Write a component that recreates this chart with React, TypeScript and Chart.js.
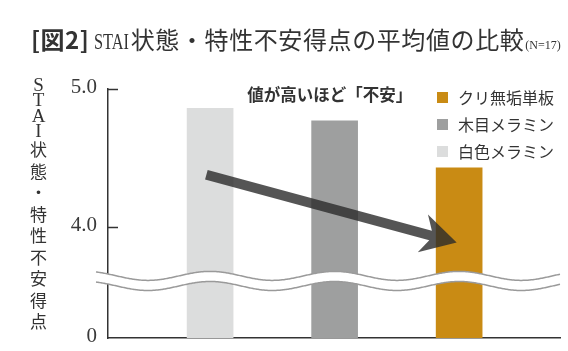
import React, { useEffect, useRef } from 'react';
import { Chart, registerables } from 'chart.js';

Chart.register(...registerables);

// ---- data ----
const categories = ['白色メラミン', '木目メラミン', 'クリ無垢単板'];
const values = [4.86, 4.77, 4.43];
const barColors = ['#DCDDDD', '#9E9F9F', '#C98B14'];
const legendOrder = [2, 1, 0];
const yTickValues = [3.2, 4.0, 5.0];
const yTickLabels = ['0', '4.0', '5.0'];
const yMin = 3.2;
const yMax = 5.0;
const breakUpper = 3.649;
const breakLower = 3.576;
const arrowStart = [-0.03, 4.38];
const arrowEnd = [1.98, 3.89];
const noteText = '値が高いほど「不安」';
const notePos = [0.96, 4.957];
const titleTag = '[図2]';
const titleLatin = 'STAI';
const titleMain = '状態・特性不安得点の平均値の比較';
const titleNote = '(N=17)';
const axisTitleLatin = 'STAI';
const axisTitleJp = '状態・特性不安得点';

const JP = '"Noto Sans CJK JP", sans-serif';
const SERIF = '"Liberation Serif", serif';

const decorPlugin = {
  id: 'decor',
  afterDatasetsDraw(chart: any) {
    const { ctx, chartArea, scales } = chart;
    const xs = scales.x;
    const ys = scales.y;
    ctx.save();

    // inward tick marks
    ctx.strokeStyle = '#333';
    ctx.lineWidth = 1.5;
    yTickValues.forEach((v) => {
      if (v === yMin) return;
      const y = Math.round(ys.getPixelForValue(v)) + 0.5;
      ctx.beginPath();
      ctx.moveTo(chartArea.left, y);
      ctx.lineTo(chartArea.left + 10, y);
      ctx.stroke();
    });

    // axis break (wavy white band)
    const x0 = xs.getPixelForValue(0);
    const period = xs.getPixelForValue(1) - x0;
    const yu = ys.getPixelForValue(breakUpper);
    const yl = ys.getPixelForValue(breakLower);
    const A = 4.5;
    const left = chartArea.left - 12;
    const right = chartArea.right;
    const wave = (yc: number, x: number) => yc - A * Math.cos((2 * Math.PI * (x - x0)) / period);
    ctx.beginPath();
    for (let x = left; x <= right; x++) {
      const y = wave(yu, x);
      if (x === left) ctx.moveTo(x, y);
      else ctx.lineTo(x, y);
    }
    for (let x = right; x >= left; x--) ctx.lineTo(x, wave(yl, x));
    ctx.closePath();
    ctx.fillStyle = '#ffffff';
    ctx.fill();
    ctx.strokeStyle = '#9a9a9a';
    ctx.lineWidth = 1.5;
    [yu, yl].forEach((yc) => {
      ctx.beginPath();
      for (let x = left; x <= right; x++) {
        const y = wave(yc, x);
        if (x === left) ctx.moveTo(x, y);
        else ctx.lineTo(x, y);
      }
      ctx.stroke();
    });

    // arrow
    const sx = xs.getPixelForValue(arrowStart[0]);
    const sy = ys.getPixelForValue(arrowStart[1]);
    const ex = xs.getPixelForValue(arrowEnd[0]);
    const ey = ys.getPixelForValue(arrowEnd[1]);
    const dx = ex - sx;
    const dy = ey - sy;
    const len = Math.hypot(dx, dy);
    const ux = dx / len;
    const uy = dy / len;
    const px = -uy;
    const py = ux;
    const hw = 5;
    const headLen = 35;
    const headHalf = 19.5;
    const joint = 27;
    const pt = (along: number, perp: number): [number, number] => [
      ex + ux * along + px * perp,
      ey + uy * along + py * perp,
    ];
    const pts: [number, number][] = [
      [sx - px * hw, sy - py * hw],
      pt(-joint, -hw),
      pt(-headLen, -headHalf),
      [ex, ey],
      pt(-headLen, headHalf),
      pt(-joint, hw),
      [sx + px * hw, sy + py * hw],
    ];
    ctx.beginPath();
    pts.forEach((p, i) => (i === 0 ? ctx.moveTo(p[0], p[1]) : ctx.lineTo(p[0], p[1])));
    ctx.closePath();
    ctx.fillStyle = 'rgba(42,42,42,0.8)';
    ctx.fill();

    // note text
    ctx.fillStyle = '#333';
    ctx.font = 'bold 16.5px "Noto Sans CJK JP"';
    ctx.textAlign = 'center';
    ctx.textBaseline = 'middle';
    ctx.fillText(noteText, xs.getPixelForValue(notePos[0]), ys.getPixelForValue(notePos[1]));
    ctx.restore();
  },
};

export default function App() {
  const canvasRef = useRef<HTMLCanvasElement | null>(null);

  useEffect(() => {
    document.body.style.margin = '0';
    const canvas = canvasRef.current;
    if (!canvas) return;
    const chart = new Chart(canvas, {
      type: 'bar',
      data: {
        labels: categories,
        datasets: [
          {
            label: 'STAI',
            data: values.map((v, i) => ({ x: i, y: v })) as any,
            backgroundColor: barColors,
            borderWidth: 0,
            barThickness: 46,
          },
        ],
      },
      options: {
        animation: false,
        responsive: true,
        maintainAspectRatio: false,
        layout: { padding: { left: 0, top: 89, right: 8, bottom: 13 } },
        plugins: { legend: { display: false }, tooltip: { enabled: false } },
        scales: {
          x: {
            type: 'linear',
            offset: false,
            min: -0.82,
            max: 2.81,
            ticks: { display: false },
            grid: { display: false, drawTicks: false },
            border: { display: true, color: '#333', width: 1.5 },
            afterFit: (s: any) => {
              s.height = 0;
              s.paddingLeft = 0;
              s.paddingRight = 0;
            },
          },
          y: {
            type: 'linear',
            min: yMin,
            max: yMax,
            afterBuildTicks: (s: any) => {
              s.ticks = yTickValues.map((v) => ({ value: v }));
            },
            ticks: {
              padding: 11,
              labelOffset: -1.5,
              color: '#3a3a3a',
              font: { family: SERIF, size: 21 },
              callback: (v: any) => {
                const i = yTickValues.indexOf(Number(v));
                return i >= 0 ? yTickLabels[i] : '';
              },
            },
            grid: { display: false, drawTicks: false },
            border: { display: true, color: '#333', width: 1.5 },
            afterFit: (s: any) => {
              s.width = 108;
              s.paddingTop = 0;
              s.paddingBottom = 0;
            },
          },
        },
      },
      plugins: [decorPlugin],
    } as any);
    return () => chart.destroy();
  }, []);

  return (
    <div style={{ position: 'relative', width: 568, height: 351, background: '#fff', overflow: 'hidden' }}>
      <canvas ref={canvasRef} style={{ position: 'absolute', left: 0, top: 0, width: 568, height: 351 }} />
      <div
        style={{
          position: 'absolute',
          left: 31,
          top: 24,
          whiteSpace: 'nowrap',
          color: '#333',
          fontSize: 24,
          lineHeight: '30px',
          fontFamily: JP,
        }}
      >
        <span style={{ fontFamily: JP, fontWeight: 700, letterSpacing: '0.5px', marginRight: 5 }}>{titleTag}</span>
        <span
          style={{
            display: 'inline-block',
            transform: 'scaleX(0.68)',
            transformOrigin: 'left center',
            marginRight: -15,
            fontFamily: SERIF,
          }}
        >
          {titleLatin}
        </span>
        <span style={{ letterSpacing: '0.6px', fontFamily: JP }}>{titleMain}</span>
        <span style={{ fontSize: 12, marginLeft: 1, fontFamily: SERIF }}>{titleNote}</span>
      </div>
      <div
        style={{
          position: 'absolute',
          left: 28,
          top: 77,
          width: 21,
          color: '#333',
          textAlign: 'center',
        }}
      >
        {axisTitleLatin.split('').map((c, i) => (
          <div key={'l' + i} style={{ height: 15.3, lineHeight: '15.3px', fontSize: 19, fontFamily: SERIF }}>
            {c}
          </div>
        ))}
        {axisTitleJp.split('').map((c, i) => (
          <div key={'j' + i} style={{ height: 21.5, lineHeight: '21.5px', fontSize: 17, fontFamily: JP }}>
            {c}
          </div>
        ))}
      </div>
      {legendOrder.map((idx, row) => (
        <div
          key={idx}
          style={{
            position: 'absolute',
            left: 437,
            top: 86 + row * 27,
            height: 22,
            display: 'flex',
            alignItems: 'center',
            whiteSpace: 'nowrap',
          }}
        >
          <span style={{ display: 'inline-block', width: 11, height: 11, background: barColors[idx] }} />
          <span style={{ marginLeft: 10, fontSize: 16, color: '#333', fontFamily: JP, lineHeight: '22px' }}>
            {categories[idx]}
          </span>
        </div>
      ))}
    </div>
  );
}
